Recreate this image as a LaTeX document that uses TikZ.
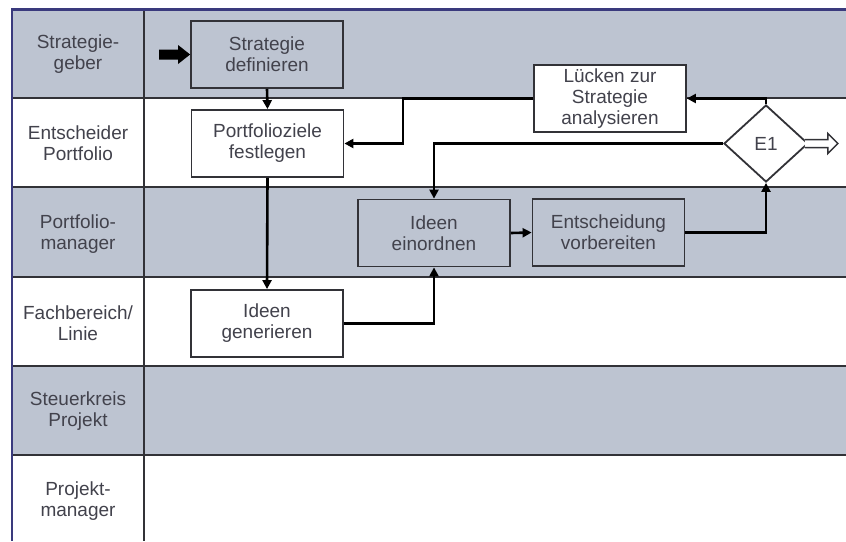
\documentclass[tikz,border=0pt]{standalone}
\usepackage{fontspec}
\setmainfont{Liberation Sans}
\usetikzlibrary{arrows.meta,shapes.geometric,calc}

\definecolor{lane}{RGB}{189,196,209}
\definecolor{ink}{RGB}{66,66,76}
\definecolor{frame}{RGB}{58,58,125}
\definecolor{rule}{RGB}{50,50,55}

\tikzset{
  proc/.style={draw=rule, line width=1.8pt, minimum width=152pt,
    minimum height=67pt, align=center, inner sep=0pt},
  decision/.style={shape=diamond, draw=rule, line width=1.8pt, fill=white,
    minimum width=84pt, minimum height=77pt, inner sep=0pt},
  conn/.style={draw=black, line width=2.6pt,
    -{Triangle[length=9pt,width=9pt]}},
  lanelabel/.style={align=center},
  lanerule/.style={draw=rule, line width=2pt},
}

\begin{document}
\begin{tikzpicture}[x=1pt, y=-1pt, font=\fontsize{19}{21}\selectfont, text=ink]
  \useasboundingbox (0,0) rectangle (846,541);
  \fill[white] (0,0) rectangle (846,541);

  % shaded swimlanes
  \fill[lane] (12,9)   rectangle (846,98);
  \fill[lane] (12,187) rectangle (846,277);
  \fill[lane] (12,366) rectangle (846,455);

  % lane separators, header column and outer frame
  \foreach \y in {98,187,277,366,455}
    \draw[lanerule] (12,\y) -- (846,\y);
  \draw[lanerule] (144,9) -- (144,541);
  \draw[frame, line width=3pt] (11,9) -- (846,9);
  \draw[frame, line width=2.5pt] (12,8) -- (12,541);

  % lane headers
  \node[lanelabel] (l1) at (78,54)  {Strategie-\\geber};
  \node[lanelabel] (l2) at (78,143) {Entscheider\\Portfolio};
  \node[lanelabel] (l3) at (78,234) {Portfolio-\\manager};
  \node[lanelabel] (l4) at (78,323) {Fachbereich/\\Linie};
  \node[lanelabel] (l5) at (78,411) {Steuerkreis\\Projekt};
  \node[lanelabel] (l6) at (78,501) {Projekt-\\manager};

  % process steps
  \node[proc, fill=lane]  (sd) at (267,54.5)  {Strategie\\definieren};
  \node[proc, fill=white] (pz) at (267.5,143.5) {Portfolioziele\\festlegen};
  \node[proc, fill=white] (ig) at (267,323.5) {Ideen\\generieren};
  \node[proc, fill=lane]  (ie) at (434,233)   {Ideen\\einordnen};
  \node[proc, fill=lane]  (ev) at (608.5,232.5) {Entscheidung\\vorbereiten};
  \node[proc, fill=white] (la) at (610,98.5)  {Lücken zur\\Strategie\\analysieren};
  \node[decision] (e1) at (766,143.5) {E1};

  % start marker
  \fill[black] (sd.west) -- ++(-12,-9.5) -- ++(0,4.5) -- ++(-19,0)
    -- ++(0,10) -- ++(19,0) -- ++(0,4.5) -- cycle;

  % exit marker
  \draw[rule, line width=1.5pt, fill=white, line join=miter]
    ($(e1.east)+(-4,-4)$) -- ++(23,0) -- ++(0,-6) -- ++(10,10)
    -- ++(-10,10) -- ++(0,-6) -- ++(-23,0);

  % flow
  \coordinate (back) at (403,98.5);
  \draw[conn] (sd.south) -- (pz.north);
  \draw[conn] (pz.south) -- (ig.north);
  \draw[conn] (ig.east) -| (ie.south);
  \draw[conn] (ie.east) -- (ev.west);
  \draw[conn] (ev.east) -| (e1.south);
  \draw[conn] (e1.north) |- (la.east);
  \draw[conn] (la.west) -- (back) |- (pz.east);
  \draw[conn] (e1.west) -| (ie.north);
\end{tikzpicture}
\end{document}
